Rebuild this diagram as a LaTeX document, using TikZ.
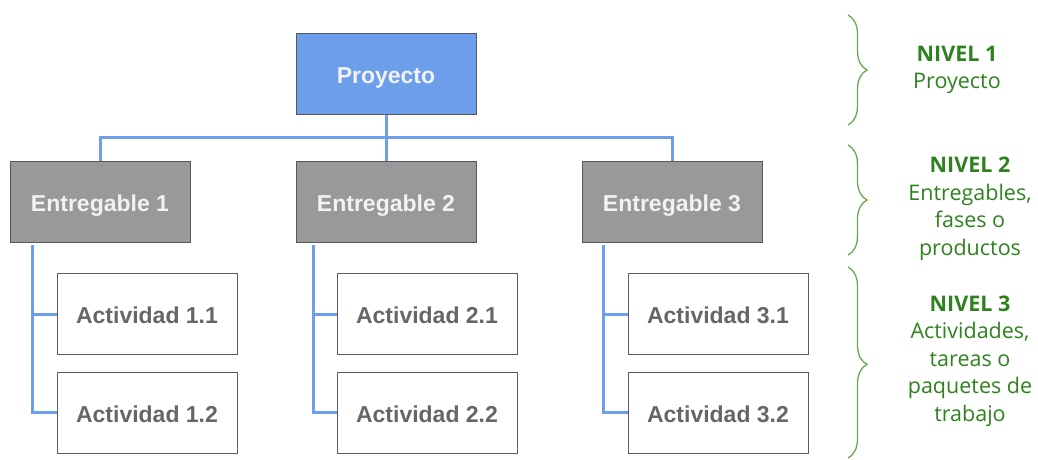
\documentclass[tikz,border=0pt]{standalone}
\usepackage{fontspec}
\setmainfont{Liberation Sans}
\newfontfamily\legendfont{Open Sans}
\usetikzlibrary{decorations.pathreplacing}
\definecolor{wbsblue}{HTML}{6D9EEB}
\definecolor{wbsgray}{HTML}{999999}
\definecolor{wbsedge}{HTML}{595959}
\definecolor{acttext}{HTML}{666666}
\definecolor{lvlgreen}{RGB}{46,130,30}
\definecolor{bracegreen}{HTML}{6AA84F}
\tikzset{
  box/.style={draw=wbsedge, line width=1pt, minimum width=180pt, minimum height=81pt,
    inner sep=0pt, text height=19.5pt, text depth=0pt,
    font=\fontsize{23}{27}\selectfont\bfseries},
  rootbox/.style={box, fill=wbsblue, text=white!95!black},
  delivbox/.style={box, fill=wbsgray, text=white!95!black},
  actbox/.style={box, fill=white, draw=acttext!90!black, text=acttext},
  link/.style={draw=wbsblue, line width=3pt},
  lvlbrace/.style={draw=bracegreen, line width=1.3pt, decorate,
    decoration={brace, amplitude=19pt}},
  lvltext/.style={align=center, text=lvlgreen, inner sep=0pt,
    font=\legendfont\fontsize{21.5}{27.5}\selectfont}
}
\begin{document}
\begin{tikzpicture}[x=1pt, y=-1pt]
  \useasboundingbox (0,0) rectangle (1038,459);

  % tree nodes
  \node[rootbox]  (p)   at (386,73.5)  {Proyecto};
  \node[delivbox] (e1)  at (100,201.5) {Entregable 1};
  \node[delivbox] (e2)  at (386,201.5) {Entregable 2};
  \node[delivbox] (e3)  at (672,201.5) {Entregable 3};
  \node[actbox]   (a11) at (147,314)   {Actividad 1.1};
  \node[actbox]   (a12) at (147,412.5) {Actividad 1.2};
  \node[actbox]   (a21) at (427,314)   {Actividad 2.1};
  \node[actbox]   (a22) at (427,412.5) {Actividad 2.2};
  \node[actbox]   (a31) at (718,314)   {Actividad 3.1};
  \node[actbox]   (a32) at (718,412.5) {Actividad 3.2};

  % project to deliverables
  \coordinate (bar) at (386,137);
  \draw[link] (p.south) -- (e2.north);
  \draw[link] (e1.north) -- (e1.north |- bar) -- (e3.north |- bar) -- (e3.north);

  % deliverables to activities
  \coordinate (s1) at (32,245);
  \coordinate (s2) at (313,245);
  \coordinate (s3) at (603,245);
  \draw[link] (s1) |- (a12.west);
  \draw[link] (s1 |- a11.west) -- (a11.west);
  \draw[link] (s2) |- (a22.west);
  \draw[link] (s2 |- a21.west) -- (a21.west);
  \draw[link] (s3) |- (a32.west);
  \draw[link] (s3 |- a31.west) -- (a31.west);

  % level braces
  \draw[lvlbrace] (848,15) -- (848,125);
  \draw[lvlbrace] (848,145) -- (848,255);
  \draw[lvlbrace, decoration={brace, amplitude=19pt, aspect=0.51}] (848,267) -- (848,458);

  % level legends
  \node[lvltext] (l1) at (957,70)  {\textbf{NIVEL 1}\\Proyecto};
  \node[lvltext] (l2) at (970,209) {\textbf{NIVEL 2}\\Entregables,\\fases o\\productos};
  \node[lvltext] (l3) at (970,361) {\textbf{NIVEL 3}\\Actividades,\\tareas o\\paquetes de\\trabajo};
\end{tikzpicture}
\end{document}
